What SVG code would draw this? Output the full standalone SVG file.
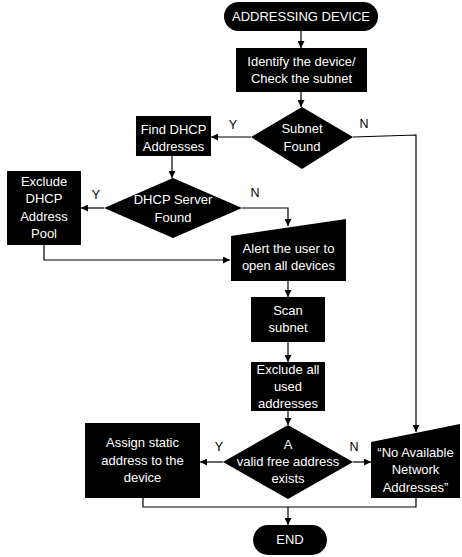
<svg xmlns="http://www.w3.org/2000/svg" width="462" height="557" viewBox="0 0 462 557">
<defs>
<style>
.n{fill:#000;}
.t{fill:#fff;font-family:"Liberation Sans",Arial,sans-serif;font-size:13px;text-anchor:middle;}
.l{fill:#000;font-family:"Liberation Sans",Arial,sans-serif;font-size:12.5px;text-anchor:middle;}
.c{fill:none;stroke:#000;stroke-width:1.2;}
</style>
<marker id="a" viewBox="0 0 10 10" refX="10" refY="5" markerWidth="7" markerHeight="7" markerUnits="userSpaceOnUse" orient="auto">
<path d="M0,0 L10,5 L0,10 z" fill="#000"/>
</marker>
</defs>
<rect width="462" height="557" fill="#fff"/>
<g id="connectors">
<path class="c" d="M301,31 V48" marker-end="url(#a)"/>
<path class="c" d="M301,92 V107" marker-end="url(#a)"/>
<path class="c" d="M251,137 H211" marker-end="url(#a)"/>
<path class="c" d="M353,137 L416,135 V432" marker-end="url(#a)"/>
<path class="c" d="M172,156 V178" marker-end="url(#a)"/>
<path class="c" d="M104,208 H81" marker-end="url(#a)"/>
<path class="c" d="M242,208 H288 V226" marker-end="url(#a)"/>
<path class="c" d="M44,245 V260 H230" marker-end="url(#a)"/>
<path class="c" d="M288,281 V297" marker-end="url(#a)"/>
<path class="c" d="M288,342 V362" marker-end="url(#a)"/>
<path class="c" d="M288,411 V425" marker-end="url(#a)"/>
<path class="c" d="M223,462 H200" marker-end="url(#a)"/>
<path class="c" d="M353,462 H371" marker-end="url(#a)"/>
<path class="c" d="M143,498 V507 H416 V498"/>
<path class="c" d="M288,507 V525" marker-end="url(#a)"/>
<text class="l" x="233" y="129">Y</text>
<text class="l" x="364" y="128">N</text>
<text class="l" x="96" y="199">Y</text>
<text class="l" x="255" y="197">N</text>
<text class="l" x="219" y="451">Y</text>
<text class="l" x="354" y="451">N</text>
</g>
<g id="start">
<rect class="n" x="224" y="2" width="154" height="29" rx="14.5"/>
<text class="t" x="301" y="21">ADDRESSING DEVICE</text>
</g>
<g id="identify">
<rect class="n" x="236" y="48" width="131" height="44"/>
<text class="t" x="301.5" y="66">Identify the device/</text>
<text class="t" x="301.5" y="83">Check the subnet</text>
</g>
<g id="subnet-found">
<polygon class="n" points="302,107 353,137 302,169 251,137"/>
<text class="t" x="302" y="133">Subnet</text>
<text class="t" x="302" y="151">Found</text>
</g>
<g id="find-dhcp">
<rect class="n" x="136" y="116" width="75" height="40"/>
<text class="t" x="173.5" y="134">Find DHCP</text>
<text class="t" x="173.5" y="151">Addresses</text>
</g>
<g id="dhcp-server-found">
<polygon class="n" points="173,178 242,208 173,238 104,208"/>
<text class="t" x="173" y="204">DHCP Server</text>
<text class="t" x="173" y="222">Found</text>
</g>
<g id="exclude-dhcp">
<rect class="n" x="7" y="171" width="74" height="74"/>
<text class="t" x="44" y="186">Exclude</text>
<text class="t" x="44" y="203">DHCP</text>
<text class="t" x="44" y="221">Address</text>
<text class="t" x="44" y="238">Pool</text>
</g>
<g id="alert">
<polygon class="n" points="231,236 346,219 346,281 231,281"/>
<text class="t" x="288.5" y="253">Alert the user to</text>
<text class="t" x="288.5" y="270">open all devices</text>
</g>
<g id="scan">
<rect class="n" x="251" y="297" width="74" height="45"/>
<text class="t" x="288" y="315">Scan</text>
<text class="t" x="288" y="332">subnet</text>
</g>
<g id="exclude-used">
<rect class="n" x="251" y="362" width="74" height="49"/>
<text class="t" x="288" y="374">Exclude all</text>
<text class="t" x="288" y="391">used</text>
<text class="t" x="288" y="408">addresses</text>
</g>
<g id="valid-free">
<polygon class="n" points="288,425 353,462 288,499 223,462"/>
<text class="t" x="288" y="449">A</text>
<text class="t" x="288" y="466">valid free address</text>
<text class="t" x="288" y="483">exists</text>
</g>
<g id="assign">
<rect class="n" x="85" y="423" width="115" height="75"/>
<text class="t" x="142.5" y="447">Assign static</text>
<text class="t" x="142.5" y="465">address to the</text>
<text class="t" x="142.5" y="482">device</text>
</g>
<g id="no-available">
<polygon class="n" points="371,442 460,424 460,498 371,498"/>
<text class="t" x="415.5" y="457">“No Available</text>
<text class="t" x="415.5" y="474">Network</text>
<text class="t" x="415.5" y="492">Addresses”</text>
</g>
<g id="end">
<rect class="n" x="253" y="525" width="74" height="30" rx="15"/>
<text class="t" x="290" y="544">END</text>
</g>
</svg>
